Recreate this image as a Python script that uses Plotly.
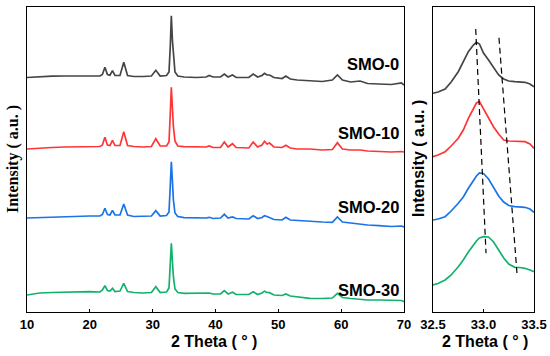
import plotly.graph_objects as go

# ---------------- data ----------------
names = ["SMO-0", "SMO-10", "SMO-20", "SMO-30"]
colors = ["#454545", "#ff3535", "#1a74e6", "#12b26c"]

# left panel: full pattern, 2 theta grid and intensities (a.u., above each baseline)
theta_full = [10, 12, 14, 16, 18, 20, 21.6, 22.0, 22.4, 22.8, 23.2, 23.6, 24.0, 24.8, 25.4, 26.0,
              27, 28.5, 29.8, 30.5, 31.2, 32.2, 32.6, 32.8, 32.97, 33.15, 33.3, 33.55, 34.0, 35,
              37, 38.5, 39.0, 39.6, 40.8, 41.4, 42.0, 42.7, 43.3, 45.3, 46.0, 46.7, 47.4, 47.8,
              48.2, 48.6, 49.3, 50.6, 51.2, 51.9, 53, 55, 57, 58.6, 59.4, 60.2, 61.5, 63.0, 64.2,
              66, 68, 69.6, 70]
smo0_full = [-0.5, 0.3, 0.8, 1.0, 1.2, 1.3, 1.0, 2.5, 9.7, 2.5, 1.8, 6.3, 1.5, 1.5, 14.7, 1.5,
             0.5, 0.5, 1.0, 6.7, 1.0, 1.5, 5, 30, 61.3, 36, 22, 5, 1.0, 0,
             -0.5, 0, 1.5, 0, 0, 3, 0, 2, -0.5, -0.5, 3, 0, 1.5, 3.7,
             2.0, 2.0, -0.5, -1.5, 1.0, -2, -3, -4, -4.5, -3, 2, -3, -5, -4, -6.5,
             -7, -7.5, -6, -8]
smo10_full = [0, 1, 1.5, 2, 2.3, 2.5, 2.5, 4, 11.7, 4, 3.5, 8.7, 3.5, 3.5, 17.3, 3.5,
              2.5, 2, 2.5, 10.3, 3, 3, 7, 35, 61.7, 40, 22.3, 8, 3, 2.3,
              2, 2, 3, 1.5, 1.5, 7, 2, 5.3, 1.5, 1, 7, 2, 4, 7.7,
              5, 6, 2, 1.5, 3.7, 1, 0, 0, -1, -0.5, 6.3, 0, -1, -1, -2,
              -2.7, -3, -2.5, -3]
smo20_full = [0, 0.5, 1, 1.5, 2, 2, 2, 3.5, 9.7, 3.5, 3, 7.7, 3, 3, 14, 3,
              1.5, 1.5, 2, 7.3, 2, 2.5, 6, 32, 56.3, 36, 18, 5, 1.5, 0.3,
              0, 0, 0.7, -0.5, 0, 3.7, 0, 1, -0.5, -1, 2.3, -0.5, 0.5, 2.3,
              1.5, 0.3, -1.5, -2, 0.7, -2, -2.5, -3.7, -4, -4.3, 1, -4, -5, -6, -7,
              -7.7, -8.5, -8, -9]
smo30_full = [0, 2, 2.5, 3, 3.3, 3.3, 3, 5, 9.3, 4.5, 4, 6.7, 3.5, 4, 11.7, 3.5,
              2.5, 2, 2.5, 8.3, 2.5, 3, 7, 28, 51.7, 33, 18.3, 6, 2.5, 1.7,
              1.5, 1.5, 2, 1, 1, 4.3, 1, 2.7, 0.5, 0.5, 3.3, 0.5, 2, 3.7,
              2.5, 2.3, 0, -0.5, 1, -1, -2, -3.3, -3.5, -3, 1.7, -2.5, -3.5, -4.3, -5,
              -5, -5.5, -5.5, -6.7]
full_offsets = [235, 163, 94, 17]

# right panel: zoom on the main reflection
theta_zoom = [32.5, 32.55, 32.62, 32.68, 32.75, 32.8, 32.85, 32.9, 32.93, 32.96, 33.0, 33.05,
              33.1, 33.15, 33.2, 33.25, 33.31, 33.36, 33.41, 33.46, 33.5]
smo0_zoom = [1.7, 3, 6, 13, 23.3, 33, 43.3, 50, 52.7, 51, 42, 35, 27, 20, 16, 14, 13.3, 13, 12.7, 11, 8.3]
smo10_zoom = [0.3, 2, 5.3, 11, 18.7, 27, 38.7, 49, 54, 55.3, 48, 39, 30, 23, 17, 16, 16, 16, 15.3, 13, 8.7]
smo20_zoom = [0, 1, 3.3, 9, 16.7, 23, 31.7, 40, 44, 47, 46.5, 41, 32, 24, 18, 14.5, 13.3, 13, 12.7, 11, 7.7]
smo30_zoom = [0, 1.5, 5, 10, 18.3, 25, 33, 40, 44, 47, 48.3, 48, 43, 35, 27, 21, 17.7, 17.5, 16.7, 15, 13.3]
zoom_offsets = [217, 155, 92, 27]

# guide lines (peak shift) in the zoom panel
guide1_x = [32.923, 33.025]
guide1_y = [283, 58.7]
guide2_x = [33.153, 33.334]
guide2_y = [274.3, 35.3]

label_x = 69.5
label_y = [247.7, 179.3, 105.3, 22]

left_ticks = [10, 20, 30, 40, 50, 60, 70]
right_ticks = [32.5, 33.0, 33.5]

# ---------------- figure ----------------
fig = go.Figure()
full_series = [smo0_full, smo10_full, smo20_full, smo30_full]
zoom_series = [smo0_zoom, smo10_zoom, smo20_zoom, smo30_zoom]

for name, col, ys, off in zip(names, colors, full_series, full_offsets):
    fig.add_trace(go.Scatter(x=theta_full, y=[v + off for v in ys], mode="lines",
                             line=dict(color=col, width=1.7), name=name,
                             xaxis="x", yaxis="y", showlegend=False))
for name, col, ys, off in zip(names, colors, zoom_series, zoom_offsets):
    fig.add_trace(go.Scatter(x=theta_zoom, y=[v + off for v in ys], mode="lines",
                             line=dict(color=col, width=1.7), name=name,
                             xaxis="x2", yaxis="y2", showlegend=False))
for gx, gy in [(guide1_x, guide1_y), (guide2_x, guide2_y)]:
    fig.add_trace(go.Scatter(x=gx, y=gy, mode="lines",
                             line=dict(color="black", width=1.2, dash="6px,4px"),
                             xaxis="x2", yaxis="y2", showlegend=False))

W, H = 550, 356
ax_font = dict(family="Liberation Sans, Arial", size=13, color="black", weight="bold")
common = dict(showline=True, mirror=True, linecolor="black", linewidth=1.2,
              showgrid=False, zeroline=False, automargin=False)

fig.update_layout(
    width=W, height=H, autosize=False,
    margin=dict(l=0, r=0, t=0, b=0, pad=0, autoexpand=False),
    showlegend=False,
    paper_bgcolor="white", plot_bgcolor="white",
    xaxis=dict(domain=[27 / W, 404 / W], range=[10, 70], tickvals=left_ticks,
               ticks="inside", ticklen=3, tickwidth=1, tickcolor="black",
               tickfont=ax_font, anchor="y", **common),
    yaxis=dict(domain=[(H - 312) / H, (H - 7) / H], range=[0, 305], ticks="",
               showticklabels=False, anchor="x", **common),
    xaxis2=dict(domain=[433 / W, 534 / W], range=[32.5, 33.5], tickvals=right_ticks,
                ticks="inside", ticklen=3, tickwidth=1, tickcolor="black",
                tickformat=".1f", tickfont=ax_font, anchor="y2", **common),
    yaxis2=dict(domain=[(H - 312) / H, (H - 7) / H], range=[0, 305], ticks="",
                showticklabels=False, anchor="x2", **common),
)

label_font = dict(family="Liberation Sans, Arial", size=16.5, color="black", weight="bold")
title_font = dict(family="Liberation Sans, Arial", size=16, color="black", weight="bold")
for name, ly in zip(names, label_y):
    fig.add_annotation(x=label_x, y=ly, xref="x", yref="y", text=name, showarrow=False,
                       xanchor="right", yanchor="middle", font=label_font)

fig.add_annotation(x=214 / W, y=(H - 341) / H, xref="paper", yref="paper",
                   text="2 Theta ( ° )", showarrow=False, xanchor="center", yanchor="middle",
                   font=title_font)
fig.add_annotation(x=485 / W, y=(H - 341) / H, xref="paper", yref="paper",
                   text="2 Theta ( ° )", showarrow=False, xanchor="center", yanchor="middle",
                   font=title_font)
fig.add_annotation(x=13.5 / W, y=(H - 159.5) / H, xref="paper", yref="paper",
                   text="Intensity ( a.u. )", showarrow=False, textangle=-90,
                   xanchor="center", yanchor="middle",
                   font=dict(family="Liberation Serif, Times New Roman", size=16,
                             color="black", weight="bold"))
fig.add_annotation(x=418 / W, y=(H - 159) / H, xref="paper", yref="paper",
                   text="Intensity ( a.u. )", showarrow=False, textangle=-90,
                   xanchor="center", yanchor="middle", font=title_font)

fig.write_html("out.html", config={"displayModeBar": False},
               post_script="document.body.style.margin='0';document.body.style.overflow='hidden';")
